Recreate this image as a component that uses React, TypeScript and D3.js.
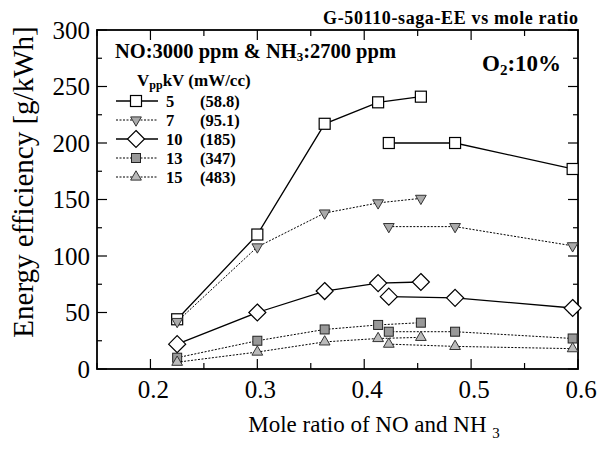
import * as d3 from "d3";

// mole ratio positions of the two measurement runs
const ratiosA = [0.225, 0.3, 0.363, 0.413, 0.453];
const ratiosB = [0.423, 0.485, 0.595];

// energy efficiency [g/kWh]
const v5A = [44, 119, 217, 236, 241];
const v5B = [200, 200, 177];
const v7A = [42, 108, 138, 147, 151];
const v7B = [126, 126, 109];
const v10A = [22, 50, 69, 76, 77];
const v10B = [64, 63, 54];
const v13A = [10, 25, 35, 39, 41];
const v13B = [33, 33, 27];
const v15A = [6, 15, 24, 27, 28];
const v15B = [22, 20, 18];

const voltages = ["5", "7", "10", "13", "15"];
const powers = ["(58.8)", "(95.1)", "(185)", "(347)", "(483)"];
const yTicks = [0, 50, 100, 150, 200, 250, 300];
const xTicks = [0.2, 0.3, 0.4, 0.5, 0.6];

const W = 607;
const H = 450;
const left = 97, right = 578, top = 30, bottom = 369;

const x = d3.scaleLinear().domain([0.15, 0.6]).range([left, right]);
const y = d3.scaleLinear().domain([0, 300]).range([bottom, top]);

type Style = { dash?: string; width: number; marker: string; fill: string };
const styles: Style[] = [
  { width: 1.3, marker: "square", fill: "#fff" },
  { dash: "2,1.5", width: 1, marker: "down", fill: "#aaa" },
  { width: 1.3, marker: "diamond", fill: "#fff" },
  { dash: "2,1.5", width: 1, marker: "square13", fill: "#999" },
  { dash: "2,1.5", width: 1, marker: "up", fill: "#bbb" },
];

const seriesA = [v5A, v7A, v10A, v13A, v15A];
const seriesB = [v5B, v7B, v10B, v13B, v15B];

function Marker({ cx, cy, s }: { cx: number; cy: number; s: Style }) {
  const sw = 1.2;
  if (s.marker === "square")
    return <rect x={cx - 5.5} y={cy - 5.5} width={11} height={11} fill="#fff" stroke="#000" strokeWidth={sw} />;
  if (s.marker === "square13")
    return <rect x={cx - 4.5} y={cy - 4.5} width={9} height={9} fill={s.fill} stroke="#222" strokeWidth={1} />;
  if (s.marker === "diamond")
    return <path d={`M${cx},${cy - 8.5}L${cx + 8.5},${cy}L${cx},${cy + 8.5}L${cx - 8.5},${cy}Z`} fill="#fff" stroke="#000" strokeWidth={sw} />;
  const sym = d3.symbol(d3.symbolTriangle, 50)()!;
  const rot = s.marker === "down" ? 180 : 0;
  return <path d={sym} transform={`translate(${cx},${cy}) rotate(${rot})`} fill={s.fill} stroke="#333" strokeWidth={1} />;
}

export default function App() {
  const line = d3.line<[number, number]>().x(d => x(d[0])).y(d => y(d[1]));
  const serif = "'Liberation Serif', 'Times New Roman', serif";
  const yMinor = d3.range(0, 301, 25);
  const xMinor = d3.range(0.15, 0.601, 0.05);

  return (
    <svg width={W} height={H} style={{ display: "block", position: "absolute", left: 0, top: 0 }} fontFamily={serif}>
      <rect width={W} height={H} fill="#fff" />
      {/* frame */}
      <rect x={left} y={top} width={right - left} height={bottom - top} fill="none" stroke="#000" strokeWidth={1.8} />
      {/* ticks, inward on all four sides */}
      {yMinor.map(v => {
        const len = v % 50 === 0 ? 10 : 5;
        return (
          <g key={"yt" + v}>
            <line x1={left} x2={left + len} y1={y(v)} y2={y(v)} stroke="#000" strokeWidth={1.2} />
            <line x1={right} x2={right - len} y1={y(v)} y2={y(v)} stroke="#000" strokeWidth={1.2} />
          </g>
        );
      })}
      {xMinor.map(v => {
        const major = Math.abs(Math.round(v * 10) - v * 10) < 1e-6;
        const len = major ? 10 : 6;
        return (
          <g key={"xt" + v}>
            <line x1={x(v)} x2={x(v)} y1={bottom} y2={bottom - len} stroke="#000" strokeWidth={1.2} />
            <line x1={x(v)} x2={x(v)} y1={top} y2={top + len} stroke="#000" strokeWidth={1.2} />
          </g>
        );
      })}
      {yTicks.map(v => (
        <text key={"yl" + v} x={left - 7} y={y(v)} dy="0.35em" textAnchor="end" fontSize={25}>{v}</text>
      ))}
      {xTicks.map(v => (
        <text key={"xl" + v} x={x(v) + 3} y={398} textAnchor="middle" fontSize={25}>{v.toFixed(1)}</text>
      ))}
      <text transform={`translate(33,182) rotate(-90)`} textAnchor="middle" fontSize={29}>
        Energy efficiency [g/kWh]
      </text>
      <text x={374} y={432} textAnchor="middle" fontSize={23}>
        Mole ratio of NO and NH <tspan dy={6} fontSize={15}>3</tspan>
      </text>
      <text x={323} y={24} fontSize={18} fontWeight="bold" textLength={255} lengthAdjust="spacing">
        G-50110-saga-EE vs mole ratio
      </text>

      {/* series */}
      {styles.map((s, i) => {
        const a = ratiosA.map((r, j) => [r, seriesA[i][j]] as [number, number]);
        const b = ratiosB.map((r, j) => [r, seriesB[i][j]] as [number, number]);
        return (
          <g key={"s" + i}>
            <path d={line(a)!} fill="none" stroke="#000" strokeWidth={s.width} strokeDasharray={s.dash} />
            <path d={line(b)!} fill="none" stroke="#000" strokeWidth={s.width} strokeDasharray={s.dash} />
            {[...a, ...b].map((p, j) => <Marker key={j} cx={x(p[0])} cy={y(p[1])} s={s} />)}
          </g>
        );
      })}

      {/* annotations */}
      <text x={115} y={58} fontSize={20.5} fontWeight="bold">
        NO:3000 ppm &amp; NH<tspan dy={3} fontSize={13}>3</tspan><tspan dy={-3}>:2700 ppm</tspan>
      </text>
      <text x={482} y={71} fontSize={23} fontWeight="bold">
        O<tspan dy={4} fontSize={15}>2</tspan><tspan dy={-4}>:10%</tspan>
      </text>
      <text x={137} y={86} fontSize={17} fontWeight="bold">
        V<tspan dy={3} fontSize={12}>pp</tspan><tspan dy={-3}>kV (mW/cc)</tspan>
      </text>
      {styles.map((s, i) => {
        const ly = 101 + i * 19;
        return (
          <g key={"lg" + i}>
            <line x1={116} x2={158} y1={ly} y2={ly} stroke="#000" strokeWidth={s.width} strokeDasharray={s.dash} />
            <Marker cx={136} cy={ly} s={s} />
            <text x={166} y={ly + 6} fontSize={16.5} fontWeight="bold">{voltages[i]}</text>
            <text x={200} y={ly + 6} fontSize={16.5} fontWeight="bold">{powers[i]}</text>
          </g>
        );
      })}
    </svg>
  );
}
